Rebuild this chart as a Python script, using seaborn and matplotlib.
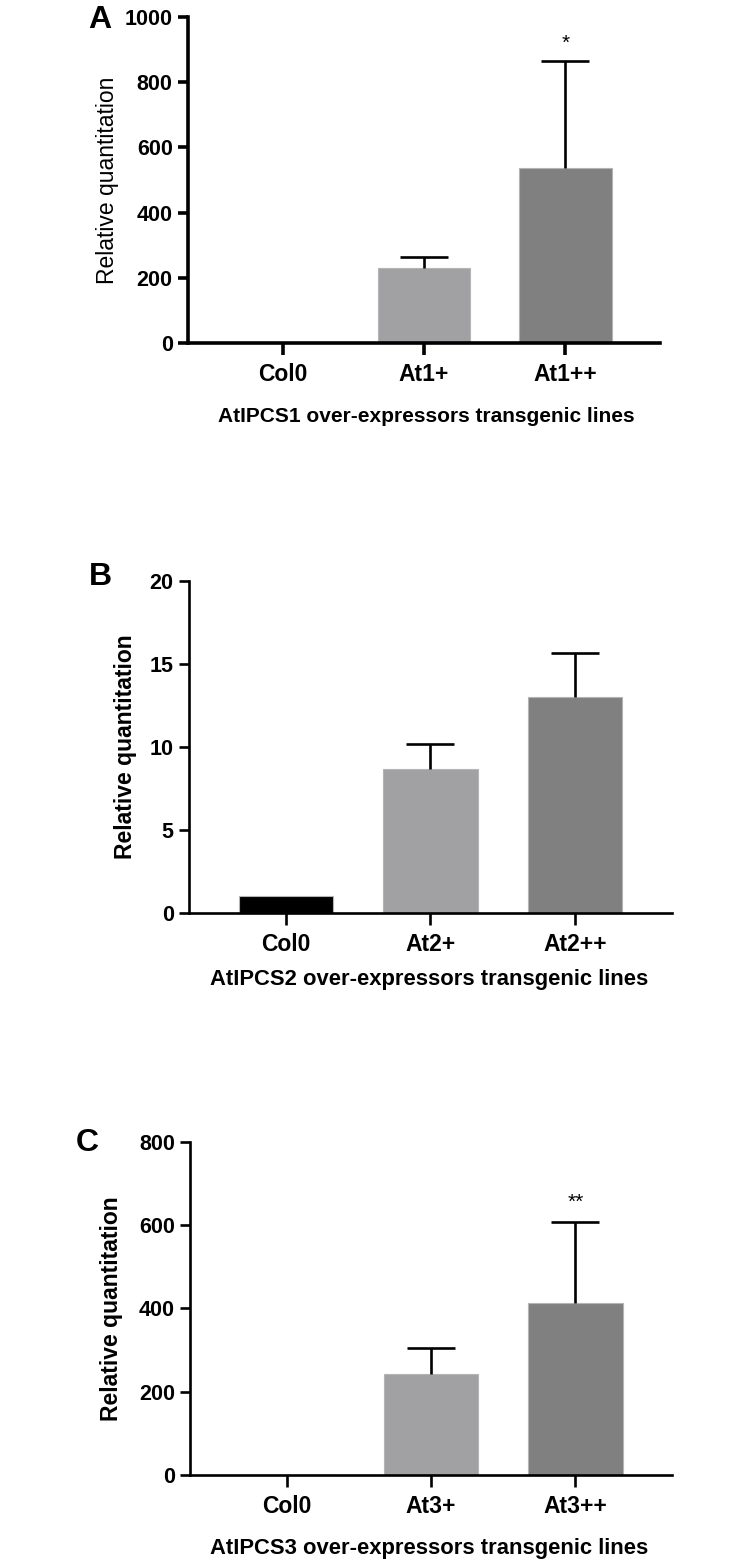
import matplotlib
matplotlib.use("Agg")
import matplotlib.pyplot as plt
from matplotlib import font_manager
import seaborn as sns

# data (mean, upper SD)
cats_a = ["Col0", "At1+", "At1++"]
vals_a = [1.0, 230, 537]
err_a = [0, 33, 328]

cats_b = ["Col0", "At2+", "At2++"]
vals_b = [1.0, 8.7, 13.0]
err_b = [0, 1.5, 2.65]

cats_c = ["Col0", "At3+", "At3++"]
vals_c = [1.0, 243, 414]
err_c = [0, 62, 194]

yticks_a = [0, 200, 400, 600, 800, 1000]
yticks_b = [0, 5, 10, 15, 20]
yticks_c = [0, 200, 400, 600, 800]

bar_colors = ["#000000", "#a0a0a5", "#808080"]

sns.set_theme(style="ticks")
names = {f.name for f in font_manager.fontManager.ttflist}
narrow = "Liberation Sans Narrow" if "Liberation Sans Narrow" in names else "Liberation Sans"
plt.rcParams["font.family"] = ["Liberation Sans", "DejaVu Sans"]
for k in ["text.color", "axes.labelcolor", "xtick.color", "ytick.color"]:
    plt.rcParams[k] = "black"

fig = plt.figure(figsize=(7.52, 15.65), dpi=100)

panels = [
    # letter, cats, vals, err, yticks, xlabel, axes rect, spine lw, ylabel weight, sig, sig y,
    # letter pos, ylabel coords, xlabel coords, xlabel size
    ("A", cats_a, vals_a, err_a, yticks_a, "AtIPCS1 over-expressors transgenic lines",
     [0.2500, 0.7808, 0.6277, 0.2083], 2.6, "normal", "*", 920, (0.133, 0.997),
     (-0.146, 0.5), (0.504, -0.195), 15),
    ("B", cats_b, vals_b, err_b, yticks_b, "AtIPCS2 over-expressors transgenic lines",
     [0.2513, 0.4166, 0.6423, 0.2121], 1.9, "bold", None, None, (0.133, 0.641),
     (-0.108, 0.5), (0.497, -0.17), 15.8),
    ("C", cats_c, vals_c, err_c, yticks_c, "AtIPCS3 over-expressors transgenic lines",
     [0.2527, 0.0575, 0.6410, 0.2128], 1.9, "bold", "**", 656, (0.116, 0.279),
     (-0.14, 0.5), (0.496, -0.19), 15.8),
]

for (letter, cats, vals, err, yticks, xlab, rect, lw, yw, sig, sig_y, lpos,
     ylc, xlc, xls) in panels:
    ax = fig.add_axes(rect)
    sns.barplot(x=cats, y=vals, hue=cats, palette=bar_colors, legend=False,
                width=0.655, edgecolor="#b4b4b4", linewidth=0.8, ax=ax)
    # upper-only error bars, skip groups without spread
    idx = [i for i, e in enumerate(err) if e > 0]
    _, caps, _ = ax.errorbar(x=idx, y=[vals[i] for i in idx],
                             yerr=[[0] * len(idx), [err[i] for i in idx]],
                             fmt="none", ecolor="black", elinewidth=1.9,
                             capsize=17, capthick=1.9)
    caps[0].set_visible(False)
    ax.set_xlim(-0.67, 2.67)
    ax.set_ylim(0, yticks[-1])
    ax.set_yticks(yticks)
    ax.set_yticklabels([str(t) for t in yticks], fontfamily=narrow, fontweight="bold", fontsize=15.5)
    ax.set_xticks(range(len(cats)))
    ax.set_xticklabels(cats, fontfamily=narrow, fontweight="bold", fontsize=16.5)
    ax.tick_params(axis="y", length=7, width=lw, pad=4)
    ax.tick_params(axis="x", length=8.5, width=lw, pad=6)
    sns.despine(ax=ax)
    for s in ["left", "bottom"]:
        ax.spines[s].set_linewidth(lw)
        ax.spines[s].set_color("black")
    ax.set_ylabel("Relative quantitation", fontsize=16.5, fontweight=yw)
    ax.yaxis.set_label_coords(*ylc)
    ax.set_xlabel(xlab, fontsize=xls, fontweight="bold", fontfamily=narrow)
    ax.xaxis.set_label_coords(*xlc)
    if sig:
        ax.text(2, sig_y, sig, ha="center", va="center", fontsize=15)
    fig.text(lpos[0], lpos[1], letter, fontsize=23, fontweight="bold", ha="center", va="top")

fig.savefig("out.png", dpi=100)
